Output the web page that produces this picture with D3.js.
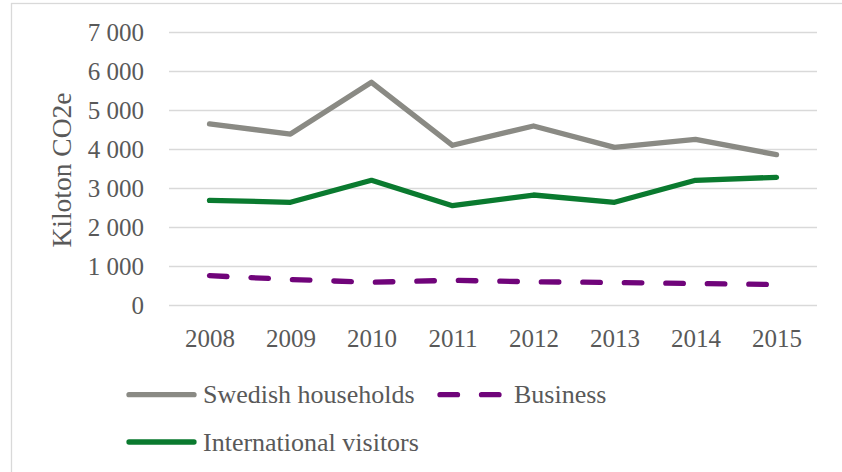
<!DOCTYPE html>
<html>
<head>
<meta charset="utf-8">
<script src="https://cdn.jsdelivr.net/npm/d3@7"></script>
<style>
  html, body { margin: 0; padding: 0; background: #fff; }
  svg { display: block; font-family: "Liberation Serif", serif; }
</style>
</head>
<body>
<svg id="chart" width="842" height="472"></svg>
<script>
const years = ["2008", "2009", "2010", "2011", "2012", "2013", "2014", "2015"]
const households = [4654, 4397, 5723, 4108, 4603, 4056, 4261, 3867]
const business = [764, 667, 595, 646, 608, 590, 564, 538]
const visitors = [2697, 2646, 3210, 2559, 2833, 2646, 3210, 3287]
const yTicks = [0, 1000, 2000, 3000, 4000, 5000, 6000, 7000]

const series = [
  { name: "Swedish households", values: households, color: "#8a8a84", dash: null },
  { name: "Business", values: business, color: "#70047a", dash: "17.5 24" },
  { name: "International visitors", values: visitors, color: "#0a7a2f", dash: null }
]

const svg = d3.select("#chart")
const textColor = "#595959"

// outer frame
svg.append("rect")
  .attr("x", 11.5).attr("y", 3.5)
  .attr("width", 860).attr("height", 500)
  .attr("fill", "none")
  .attr("stroke", "#d9d9d9")
  .attr("stroke-width", 1.3)

const x = d3.scalePoint().domain(years).range([169, 817]).padding(0.5)
const y = d3.scaleLinear().domain([0, 7000]).range([305.5, 32.5])

// gridlines
svg.append("g")
  .selectAll("line")
  .data(yTicks)
  .join("line")
  .attr("x1", 169).attr("x2", 817)
  .attr("y1", d => y(d)).attr("y2", d => y(d))
  .attr("stroke", "#d9d9d9")
  .attr("stroke-width", 1.3)

// y axis labels, space as thousands separator
const fmt = d => d3.format(",")(d).replace(/,/g, " ")
const yAxis = svg.append("g")
  .attr("transform", "translate(152,0)")
  .call(d3.axisLeft(y).tickValues(yTicks).tickSize(0).tickPadding(8).tickFormat(fmt))
yAxis.select(".domain").remove()
yAxis.selectAll("text")
  .attr("font-family", "Liberation Serif, serif")
  .attr("font-size", 25)
  .attr("fill", textColor)
  .attr("dy", "0.32em")

// x axis labels
const xAxis = svg.append("g")
  .attr("transform", "translate(0,305.5)")
  .call(d3.axisBottom(x).tickSize(0).tickPadding(24))
xAxis.select(".domain").remove()
xAxis.selectAll("text")
  .attr("font-family", "Liberation Serif, serif")
  .attr("font-size", 25)
  .attr("fill", textColor)

// y title
svg.append("text")
  .attr("transform", "translate(71,170) rotate(-90)")
  .attr("text-anchor", "middle")
  .attr("font-size", 27.5)
  .attr("fill", textColor)
  .text("Kiloton CO2e")

// lines
const line = d3.line()
  .x((d, i) => x(years[i]))
  .y(d => y(d))

svg.append("g")
  .selectAll("path")
  .data(series)
  .join("path")
  .attr("d", d => line(d.values))
  .attr("fill", "none")
  .attr("stroke", d => d.color)
  .attr("stroke-width", 5.3)
  .attr("stroke-linecap", "round")
  .attr("stroke-linejoin", "round")
  .attr("stroke-dasharray", d => d.dash)

// legend
const legendPos = [
  { x: 129, y: 394.7 },
  { x: 440, y: 394.7 },
  { x: 129, y: 442 }
]
const legend = svg.append("g")
  .selectAll("g")
  .data(series)
  .join("g")
  .attr("transform", (d, i) => `translate(${legendPos[i].x},${legendPos[i].y})`)

legend.append("line")
  .attr("x1", 0).attr("x2", 65)
  .attr("y1", 0).attr("y2", 0)
  .attr("stroke", d => d.color)
  .attr("stroke-width", 5.3)
  .attr("stroke-linecap", "round")
  .attr("stroke-dasharray", d => d.dash)

legend.append("text")
  .attr("x", 74)
  .attr("y", 0)
  .attr("dy", "0.33em")
  .attr("font-size", 26)
  .attr("fill", textColor)
  .text(d => d.name)
</script>
</body>
</html>
